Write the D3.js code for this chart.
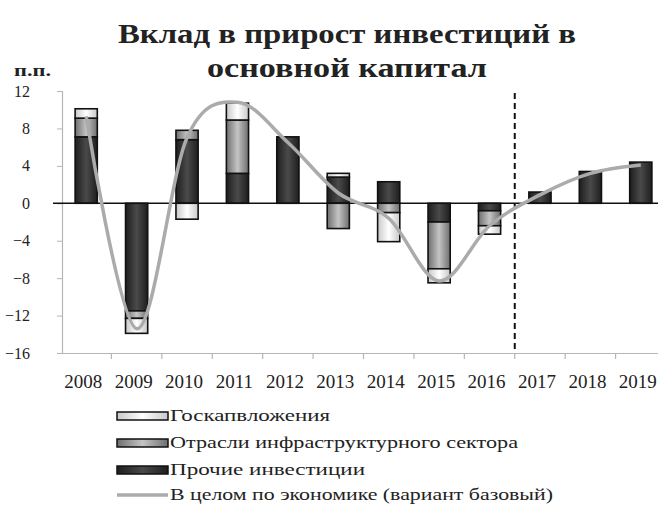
<!DOCTYPE html>
<html>
<head>
<meta charset="utf-8">
<script src="https://cdn.jsdelivr.net/npm/d3@7/dist/d3.min.js"></script>
<style>
  html, body { margin: 0; padding: 0; background: #fff; }
  svg { display: block; }
  text { font-family: "Liberation Serif", "DejaVu Serif", serif; fill: #222; }
</style>
</head>
<body>
<svg id="chart" width="658" height="506"></svg>
<script>
// Contributions to fixed-capital investment growth, percentage points
const years = ["2008","2009","2010","2011","2012","2013","2014","2015","2016","2017","2018","2019"];
const govInvest   = [1.0, -1.6, -1.7, 1.8, 0.0, 0.4, -3.1, -1.5, -0.9, 0.0, 0.0, 0.0];
const infraSector = [2.0, -0.8, 1.0, 5.7, 0.0, -2.7, -1.0, -5.0, -1.6, 0.0, 0.0, 0.0];
const otherInvest = [7.1, -11.5, 6.8, 3.2, 7.1, 2.8, 2.3, -2.0, -0.8, 1.2, 3.4, 4.4];
const totalEconomy = [9.3, -13.4, 7.0, 10.8, 6.5, 1.1, -1.6, -8.3, -2.4, 0.9, 3.2, 4.1];
const yTicks = [12, 8, 4, 0, -4, -8, -12, -16];
const seriesNames = ["Госкапвложения", "Отрасли инфраструктурного сектора", "Прочие инвестиции", "В целом по экономике (вариант базовый)"];
const forecastStart = "2017";

const svg = d3.select("#chart");

// gradients for the bar fills
const defs = svg.append("defs");
function grad(id, edge, mid) {
  const g = defs.append("linearGradient").attr("id", id).attr("x1", 0).attr("x2", 1).attr("y1", 0).attr("y2", 0);
  g.append("stop").attr("offset", "0%").attr("stop-color", edge);
  g.append("stop").attr("offset", "50%").attr("stop-color", mid);
  g.append("stop").attr("offset", "100%").attr("stop-color", edge);
}
grad("gOther", "#1e1e1e", "#4a4a4a");
grad("gInfra", "#6e6e6e", "#c4c4c4");
grad("gGov", "#c8c8c8", "#ffffff");

const x = d3.scaleBand().domain(years).range([61, 666]).paddingInner(0.56).paddingOuter(0.28);
const y = d3.scaleLinear().domain([-16, 12]).range([353, 91]);

const rows = years.map((yr, i) => ({ year: yr, other: otherInvest[i], infra: infraSector[i], gov: govInvest[i] }));
const keys = ["other", "infra", "gov"];
const fills = { other: "url(#gOther)", infra: "url(#gInfra)", gov: "url(#gGov)" };
const stacked = d3.stack().keys(keys).offset(d3.stackOffsetDiverging)(rows);

// axes
const yAxisG = svg.append("g").attr("transform", "translate(62,0)")
  .call(d3.axisLeft(y).tickValues(yTicks).tickSize(5).tickPadding(27).tickFormat(d3.format("d")));
yAxisG.select(".domain").attr("stroke", "#b5b5b5").attr("stroke-width", 1.2);
yAxisG.selectAll(".tick line").attr("stroke", "#b5b5b5");
yAxisG.selectAll(".tick text").attr("font-size", 16).attr("font-family", "Liberation Serif, serif").attr("fill", "#333");

const xAxisG = svg.append("g").attr("transform", "translate(0,353)")
  .call(d3.axisBottom(x).tickSize(0).tickPadding(22));
xAxisG.select(".domain").attr("stroke", "#b5b5b5").attr("stroke-width", 1.2);
xAxisG.selectAll(".tick text").attr("font-size", 19).attr("font-family", "Liberation Serif, serif").attr("fill", "#333").attr("dx", -3);
// category boundary ticks
const step = x.step();
const gap = (step - x.bandwidth()) / 2;
svg.append("g").selectAll("line").data(years.slice(1)).join("line")
  .attr("x1", d => x(d) - gap)
  .attr("x2", d => x(d) - gap)
  .attr("y1", 353).attr("y2", 359)
  .attr("stroke", "#b5b5b5").attr("stroke-width", 1.2);

// stacked bars
svg.append("g").selectAll("g").data(stacked).join("g")
  .attr("fill", d => fills[d.key])
  .selectAll("rect").data(d => d.filter(s => s[1] - s[0] !== 0)).join("rect")
  .attr("x", d => x(d.data.year))
  .attr("width", x.bandwidth())
  .attr("y", d => y(Math.max(d[0], d[1])))
  .attr("height", d => Math.abs(y(d[0]) - y(d[1])))
  .attr("stroke", "#111").attr("stroke-width", 1.6);

// zero line
svg.append("line").attr("x1", 53).attr("x2", 658).attr("y1", y(0)).attr("y2", y(0))
  .attr("stroke", "#111").attr("stroke-width", 1.6);

// forecast separator
const sepX = x(forecastStart) - gap;
svg.append("line").attr("x1", sepX).attr("x2", sepX).attr("y1", 93).attr("y2", 350)
  .attr("stroke", "#111").attr("stroke-width", 2).attr("stroke-dasharray", "6,4");

// whole-economy smoothed line
const line = d3.line()
  .x((d, i) => x(years[i]) + x.bandwidth() / 2)
  .y(d => y(d))
  .curve(d3.curveCardinal.tension(0));
svg.append("path").datum(totalEconomy).attr("d", line)
  .attr("fill", "none").attr("stroke", "#ababab").attr("stroke-width", 3.5);

// title and unit
svg.append("text").attr("x", 347).attr("y", 43).attr("text-anchor", "middle")
  .attr("font-size", 28).attr("font-weight", "bold").attr("fill", "#1a1a1a")
  .attr("textLength", 458).attr("lengthAdjust", "spacingAndGlyphs").text("Вклад в прирост инвестиций в");
svg.append("text").attr("x", 347).attr("y", 77).attr("text-anchor", "middle")
  .attr("font-size", 28).attr("font-weight", "bold").attr("fill", "#1a1a1a")
  .attr("textLength", 280).attr("lengthAdjust", "spacingAndGlyphs").text("основной капитал");
svg.append("text").attr("x", 14).attr("y", 76).attr("font-size", 17).attr("font-weight", "bold").attr("fill", "#222")
  .attr("textLength", 37).attr("lengthAdjust", "spacingAndGlyphs").text("п.п.");

// legend
const legendY = [416, 443, 470, 495];
const legendWidth = [160, 348, 195, 383];
const legendFill = ["url(#gGov)", "url(#gInfra)", "url(#gOther)"];
const lg = svg.append("g");
seriesNames.forEach((name, i) => {
  if (i < 3) {
    lg.append("rect").attr("x", 117).attr("y", legendY[i] - 4).attr("width", 51).attr("height", 8)
      .attr("fill", legendFill[i]).attr("stroke", "#111").attr("stroke-width", 1.5);
  } else {
    lg.append("line").attr("x1", 117).attr("x2", 168).attr("y1", legendY[i]).attr("y2", legendY[i])
      .attr("stroke", "#ababab").attr("stroke-width", 3.5);
  }
  lg.append("text").attr("x", 170).attr("y", legendY[i] + 5).attr("font-size", 17).attr("fill", "#222")
    .attr("textLength", legendWidth[i]).attr("lengthAdjust", "spacingAndGlyphs").text(name);
});
</script>
</body>
</html>
